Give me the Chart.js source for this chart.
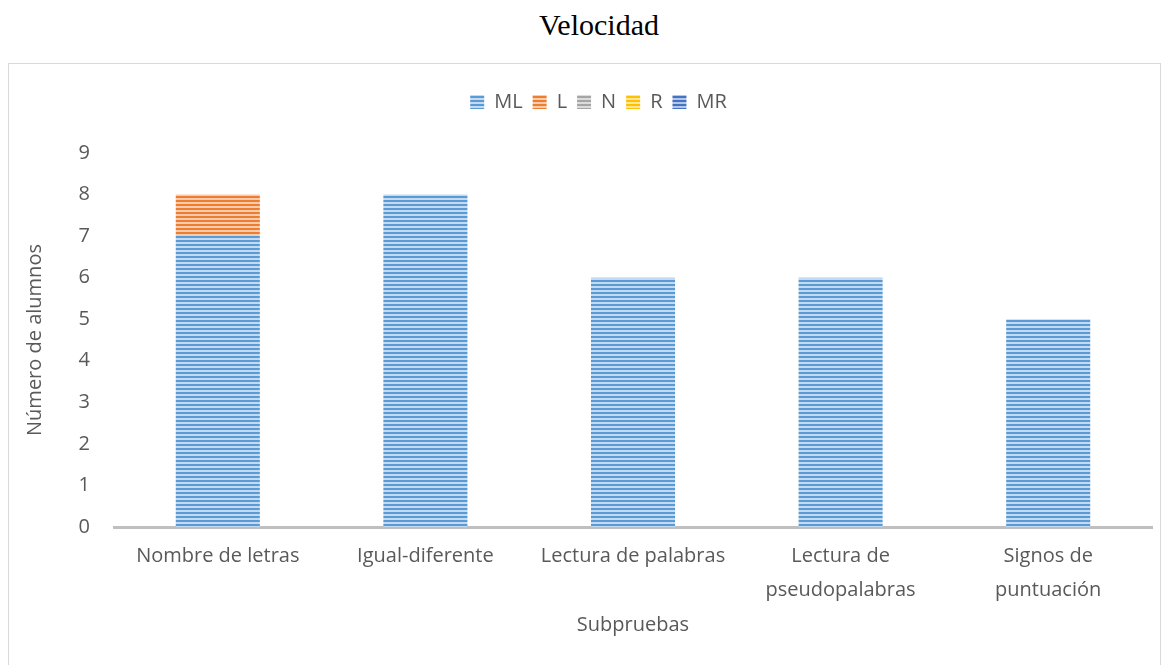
<!DOCTYPE html>
<html>
<head>
<meta charset="utf-8">
<script src="https://cdn.jsdelivr.net/npm/chart.js@4"></script>
<style>
    body { margin: 0; background: #fff; }
    #title {
        position: absolute; left: 0; top: 8px; width: 1198px;
        text-align: center; font-family: "Liberation Serif", serif; font-size: 30px; color: #000;
    }
    #box {
        position: absolute; left: 8px; top: 63px; width: 1153px; height: 620px;
        border: 1px solid #d9d9d9; box-sizing: border-box;
    }
</style>
</head>
<body>
<div id="title">Velocidad</div>
<div id="box"><canvas id="velChart" width="1150" height="600"></canvas></div>
<script>
// --- datos ---
const categorias = ['Nombre de letras', 'Igual-diferente', 'Lectura de palabras', ['Lectura de', 'pseudopalabras'], ['Signos de', 'puntuación']];
const serieML = [7, 8, 6, 6, 5];
const serieL = [1, 0, 0, 0, 0];
const serieN = [0, 0, 0, 0, 0];
const serieR = [0, 0, 0, 0, 0];
const serieMR = [0, 0, 0, 0, 0];
const ticksY = [0, 1, 2, 3, 4, 5, 6, 7, 8, 9];

// patrón de rayas horizontales
function rayas(color, claro) {
    const c = document.createElement('canvas');
    c.width = 4; c.height = 4;
    const g = c.getContext('2d');
    g.fillStyle = claro;
    g.fillRect(0, 0, 4, 4);
    g.fillStyle = color;
    g.fillRect(0, 0, 4, 2);
    return g.createPattern(c, 'repeat');
}

const ctx = document.getElementById('velChart').getContext('2d');
const fuente = '"Open Sans", sans-serif';
const gris = '#595959';

function serie(nombre, datos, color, claro) {
    return {
        label: nombre,
        data: datos,
        backgroundColor: rayas(color, claro),
        borderWidth: 0
    };
}

// espacio extra bajo la leyenda y leyenda algo a la derecha
const ajusteLeyenda = {
    id: 'ajusteLeyenda',
    beforeInit(chart) {
        const fit = chart.legend.fit;
        chart.legend.fit = function() {
            fit.bind(chart.legend)();
            this.height += 31;
        };
    },
    afterLayout(chart) {
        chart.legend.left += 13;
        chart.legend.right += 13;
    }
};

new Chart(ctx, {
    type: 'bar',
    data: {
        labels: categorias,
        datasets: [
            serie('ML', serieML, '#5b9bd5', '#c3daf0'),
            serie('L', serieL, '#ed7d31', '#f8ccad'),
            serie('N', serieN, '#a5a5a5', '#dcdcdc'),
            serie('R', serieR, '#ffc000', '#ffe699'),
            serie('MR', serieMR, '#4472c4', '#b4c7e7')
        ]
    },
    plugins: [ajusteLeyenda],
    options: {
        responsive: false,
        animation: false,
        categoryPercentage: 0.405,
        barPercentage: 1,
        layout: { padding: { top: 18, right: 7, left: 10, bottom: 0 } },
        plugins: {
            legend: {
                position: 'top',
                labels: {
                    boxWidth: 14, boxHeight: 14, padding: 10,
                    color: gris,
                    font: { family: fuente, size: 20 }
                }
            },
            tooltip: { enabled: false }
        },
        scales: {
            x: {
                stacked: true,
                afterFit(scale) { scale.height = 137; },
                grid: { display: false },
                border: { display: true, color: '#bfbfbf', width: 3 },
                ticks: { color: gris, font: { family: fuente, size: 20, lineHeight: 1.7 }, padding: 4, maxRotation: 0 },
                title: { display: true, text: 'Subpruebas', color: gris, font: { family: fuente, size: 20 }, padding: { top: 4, bottom: 27 } }
            },
            y: {
                stacked: true,
                min: 0, max: 9,
                afterFit(scale) { scale.width = 95; },
                afterBuildTicks: function(axis) { axis.ticks = ticksY.map(v => ({ value: v })); },
                grid: { display: false },
                border: { display: false },
                ticks: { color: gris, font: { family: fuente, size: 20 }, padding: 16 },
                title: { display: true, text: 'Número de alumnos', color: gris, font: { family: fuente, size: 20 }, padding: { top: 4, bottom: 4 } }
            }
        }
    }
});
</script>
</body>
</html>
